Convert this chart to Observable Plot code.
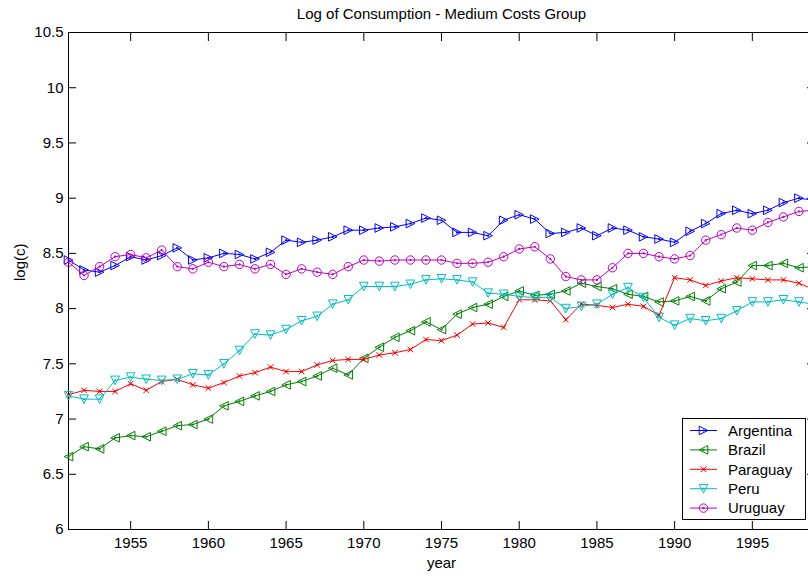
<!DOCTYPE html>
<html><head><meta charset="utf-8">
<script src="https://cdn.jsdelivr.net/npm/d3@7"></script>
<script src="https://cdn.jsdelivr.net/npm/@observablehq/plot@0.6"></script>
<style>
html,body{margin:0;padding:0;overflow:hidden;background:#fff;width:808px;height:578px}
#wrap{position:relative;width:830px;height:578px}
#legend{position:absolute;left:682px;top:418px;width:124px;height:102px;border:1px solid #000;background:#fff;box-sizing:border-box}
</style></head><body><div id="wrap"></div>
<script>
const years = [1951,1952,1953,1954,1955,1956,1957,1958,1959,1960,1961,1962,1963,1964,1965,1966,1967,1968,1969,1970,1971,1972,1973,1974,1975,1976,1977,1978,1979,1980,1981,1982,1983,1984,1985,1986,1987,1988,1989,1990,1991,1992,1993,1994,1995,1996,1997,1998,1999];
const argentina = [8.44,8.35,8.33,8.39,8.47,8.44,8.48,8.55,8.44,8.46,8.50,8.49,8.45,8.51,8.62,8.60,8.62,8.65,8.71,8.71,8.73,8.74,8.77,8.82,8.80,8.69,8.69,8.66,8.80,8.85,8.81,8.68,8.69,8.73,8.66,8.73,8.71,8.65,8.63,8.60,8.70,8.77,8.86,8.89,8.86,8.89,8.96,9.00,8.98];
const brazil = [6.66,6.75,6.73,6.83,6.85,6.84,6.89,6.94,6.95,7.00,7.12,7.16,7.21,7.25,7.31,7.34,7.39,7.46,7.40,7.55,7.65,7.74,7.80,7.88,7.81,7.95,8.01,8.04,8.11,8.16,8.12,8.13,8.16,8.23,8.20,8.18,8.13,8.11,8.06,8.07,8.11,8.07,8.18,8.24,8.39,8.39,8.41,8.37,8.38];
const paraguay = [7.22,7.26,7.25,7.25,7.32,7.26,7.34,7.36,7.31,7.28,7.33,7.39,7.42,7.47,7.43,7.43,7.49,7.53,7.54,7.54,7.58,7.60,7.63,7.72,7.71,7.76,7.86,7.87,7.83,8.08,8.08,8.07,7.90,8.04,8.03,8.01,8.04,8.02,7.94,8.28,8.26,8.21,8.25,8.28,8.27,8.26,8.26,8.23,8.17];
const peru = [7.21,7.18,7.18,7.35,7.38,7.36,7.35,7.36,7.41,7.40,7.50,7.62,7.77,7.76,7.81,7.89,7.93,8.04,8.08,8.20,8.20,8.20,8.22,8.26,8.27,8.26,8.24,8.14,8.13,8.11,8.10,8.10,8.00,8.02,8.04,8.13,8.19,8.10,7.92,7.85,7.91,7.89,7.91,7.98,8.06,8.06,8.08,8.06,8.04];
const uruguay = [8.42,8.30,8.38,8.47,8.49,8.46,8.53,8.38,8.36,8.42,8.38,8.40,8.36,8.40,8.31,8.36,8.33,8.31,8.38,8.44,8.43,8.44,8.44,8.44,8.44,8.41,8.41,8.42,8.47,8.54,8.56,8.45,8.29,8.26,8.26,8.37,8.50,8.50,8.47,8.45,8.48,8.62,8.67,8.73,8.71,8.78,8.83,8.88,8.89];
const countries = ["Argentina","Brazil","Paraguay","Peru","Uruguay"];
const seriesValues = [argentina, brazil, paraguay, peru, uruguay];
const xTicks = [1955,1960,1965,1970,1975,1980,1985,1990,1995];
const yTicks = [6,6.5,7,7.5,8,8.5,9,9.5,10,10.5];
const titleText = "Log of Consumption - Medium Costs Group";
const xLabel = "year";
const yLabel = "log(c)";

// styles
const colors = ["#0000ff","#008000","#ff0000","#00bfbf","#bf00bf"];
function triSym(dir){
  return {draw(ctx, size){
    const r = Math.sqrt(size/Math.PI);
    if(dir==="right"){ctx.moveTo(r,0);ctx.lineTo(-r,-r);ctx.lineTo(-r,r);}
    else if(dir==="left"){ctx.moveTo(-r,0);ctx.lineTo(r,-r);ctx.lineTo(r,r);}
    else {ctx.moveTo(0,r);ctx.lineTo(-r,-r);ctx.lineTo(r,-r);}
    ctx.closePath();
  }};
}
const timesSym = {draw(ctx,size){const r=Math.sqrt(size/Math.PI);ctx.moveTo(-r,-r);ctx.lineTo(r,r);ctx.moveTo(r,-r);ctx.lineTo(-r,r);}};
const circleSym = {draw(ctx,size){const r=Math.sqrt(size/Math.PI);ctx.moveTo(r,0);ctx.arc(0,0,r,0,2*Math.PI);}};
const symbols = [triSym("right"), triSym("left"), timesSym, triSym("down"), circleSym];
const symR = [4.3,4.3,2.8,4.3,4.2];
const font = "Arial, 'Liberation Sans', Helvetica, sans-serif";
const fs = 15;

const rows = countries.map((c,i)=>years.map((yr,j)=>({country:c, year:yr, value:seriesValues[i][j]})));

const marks = [
  Plot.frame({stroke:"#000", strokeWidth:1}),
  Plot.axisX({ticks:xTicks, anchor:"bottom", tickSize:-8, tickPadding:16, tickFormat:d=>String(d), label:null, fontSize:fs}),
  Plot.axisX({ticks:xTicks, anchor:"top", tickSize:-8, tickFormat:()=>"", label:null}),
  Plot.axisY({ticks:yTicks, anchor:"left", tickSize:-8, tickPadding:13, tickFormat:d=>String(d), label:null, fontSize:fs}),
  Plot.axisY({ticks:yTicks, anchor:"right", tickSize:-8, tickFormat:()=>"", label:null})
];
rows.forEach((data,i)=>{
  marks.push(Plot.line(data,{x:"year",y:"value",stroke:colors[i],strokeWidth:1}));
  marks.push(Plot.dot(data,{x:"year",y:"value",symbol:symbols[i],r:symR[i],stroke:colors[i],fill:"none",strokeWidth:1}));
  marks.push(Plot.dot(data,{x:"year",y:"value",r:1.1,fill:colors[i],stroke:"none"}));
});
marks.push(Plot.text([titleText],{frameAnchor:"top",dy:-18,text:d=>d,fontSize:fs,lineAnchor:"middle"}));
marks.push(Plot.text([xLabel],{frameAnchor:"bottom",dy:34,text:d=>d,fontSize:fs,lineAnchor:"middle"}));
marks.push(Plot.text([yLabel],{frameAnchor:"left",dx:-48,rotate:-90,text:d=>d,fontSize:fs,lineAnchor:"middle"}));

const chart = Plot.plot({
  width:830, height:578,
  marginLeft:68, marginRight:16, marginTop:32, marginBottom:49,
  style:{fontFamily:font, fontSize:fs+"px", color:"#000", background:"#fff", overflow:"visible"},
  x:{domain:[1951,1999], label:null},
  y:{domain:[6,10.5], label:null},
  marks
});
const wrap = document.getElementById("wrap");
wrap.appendChild(chart);

// legend
const leg = d3.select(wrap).append("div").attr("id","legend");
const lsvg = leg.append("svg").attr("width",122).attr("height",100).style("display","block").style("font-family",font).style("font-size",fs+"px");
countries.forEach((c,i)=>{
  const g = lsvg.append("g").attr("transform",`translate(0,${11.5+i*19.4})`);
  g.append("line").attr("x1",7).attr("x2",34).attr("y1",0).attr("y2",0).attr("stroke",colors[i]).attr("stroke-width",1);
  const p = d3.path(); symbols[i].draw(p, Math.PI*symR[i]*symR[i]);
  g.append("path").attr("d",p.toString()).attr("transform","translate(20.5,0)").attr("fill","none").attr("stroke",colors[i]);
  g.append("circle").attr("cx",20.5).attr("cy",0).attr("r",1.1).attr("fill",colors[i]);
  g.append("text").attr("x",45).attr("y",0).attr("dy","0.35em").attr("fill","#000").text(c);
});
</script></body></html>
